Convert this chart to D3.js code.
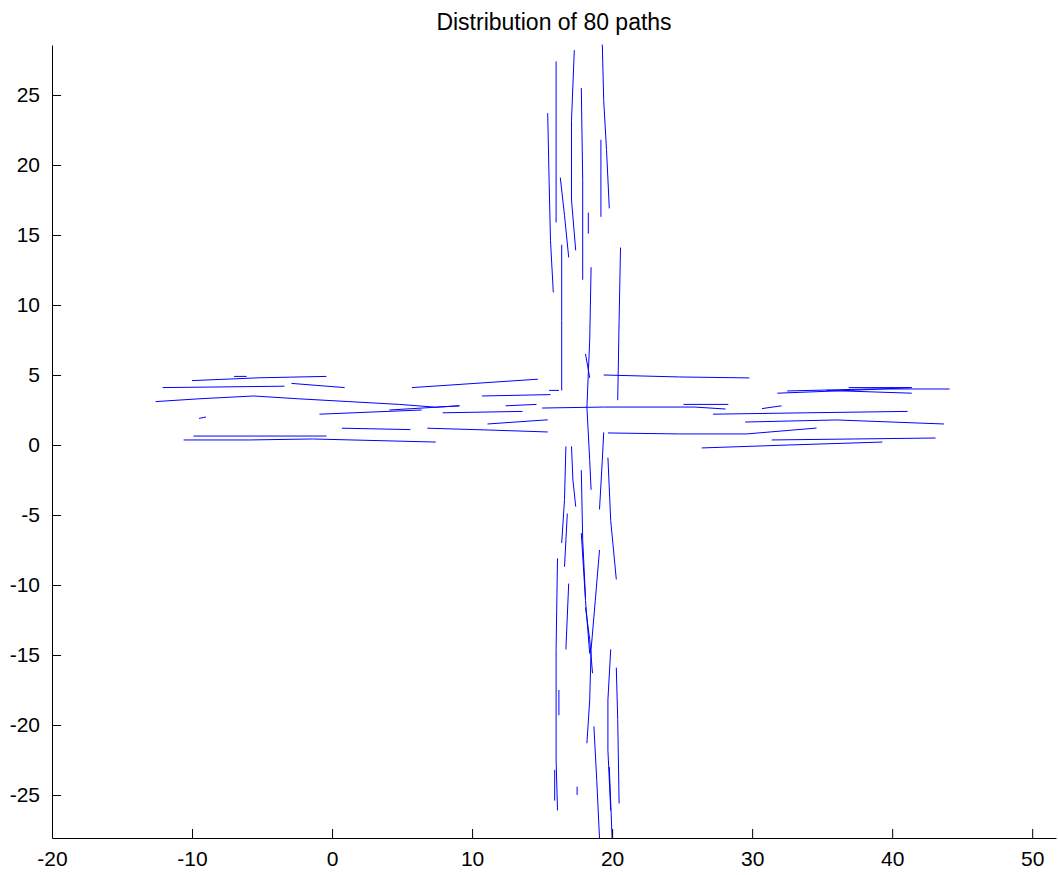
<!DOCTYPE html>
<html>
<head>
<meta charset="utf-8">
<script src="https://cdn.jsdelivr.net/npm/d3@7/dist/d3.min.js"></script>
<style>
  body { margin: 0; background: #fff; }
  svg text { font-family: "Liberation Sans", Arial, sans-serif; fill: #000; }
</style>
</head>
<body>
<svg width="1058" height="875"></svg>
<script>
const w = 1058;
const h = 875;

const title = "Distribution of 80 paths";
const xTicks = [-20, -10, 0, 10, 20, 30, 40, 50];
const yTicks = [-25, -20, -15, -10, -5, 0, 5, 10, 15, 20, 25];
const xDomain = [-20, 51.7];
const yDomain = [-28.07, 28.57];

// paths running west-east (x/y in plot units)
const westEast = [
  [[-10.0, 4.6], [-5.2, 4.8], [-0.4, 4.9]],
  [[-7.0, 4.9], [-6.1, 4.9]],
  [[-12.1, 4.1], [-3.4, 4.2]],
  [[-2.9, 4.4], [0.9, 4.1]],
  [[-12.6, 3.1], [-9.5, 3.3], [-5.6, 3.5], [-2.4, 3.3], [1.2, 3.1], [4.8, 2.9], [7.4, 2.7], [9.1, 2.8]],
  [[-9.5, 1.9], [-9.0, 2.0]],
  [[-0.9, 2.2], [6.4, 2.5]],
  [[4.1, 2.5], [9.1, 2.8]],
  [[0.7, 1.2], [5.6, 1.1]],
  [[-10.6, 0.36], [-5.9, 0.36], [-1.4, 0.43], [7.4, 0.21]],
  [[-9.9, 0.64], [-0.4, 0.64]],
  [[5.7, 4.1], [10.2, 4.4], [14.7, 4.7]],
  [[15.5, 3.9], [16.2, 3.9]],
  [[10.7, 3.5], [15.6, 3.6]],
  [[7.9, 2.3], [13.6, 2.4]],
  [[12.4, 2.8], [14.6, 2.9]],
  [[11.1, 1.5], [15.4, 1.8]],
  [[6.8, 1.2], [11.2, 1.07], [15.4, 0.93]],
  [[15.0, 2.64], [19.4, 2.71], [25.9, 2.71], [28.1, 2.57]],
  [[19.4, 5.0], [24.8, 4.86], [29.8, 4.79]],
  [[25.1, 2.9], [28.3, 2.9]],
  [[30.7, 2.6], [32.1, 2.8]],
  [[27.2, 2.2], [33.9, 2.3], [41.1, 2.4]],
  [[29.5, 1.64], [36.0, 1.79], [43.7, 1.5]],
  [[19.7, 0.86], [24.8, 0.79], [29.6, 0.79], [34.6, 1.21]],
  [[31.4, 0.36], [37.3, 0.43], [43.1, 0.5]],
  [[26.4, -0.21], [32.6, 0.0], [39.3, 0.21]],
  [[32.5, 3.86], [38.4, 4.0], [44.1, 4.0]],
  [[31.8, 3.7], [37.0, 3.9], [41.4, 4.1]],
  [[35.3, 3.9], [41.4, 3.7]],
  [[36.9, 4.1], [41.4, 4.1]]
];

// paths running north-south
const northSouth = [
  [[15.4, 23.7], [15.5, 18.9], [15.6, 14.6], [15.8, 10.9]],
  [[16.0, 27.4], [16.0, 15.9]],
  [[16.3, 19.1], [16.6, 16.4], [16.9, 13.4]],
  [[16.4, 14.3], [16.4, 8.9], [16.4, 3.9]],
  [[17.3, 28.2], [17.1, 23.2], [17.1, 17.5], [17.4, 13.9]],
  [[17.8, 25.5], [17.9, 18.9], [17.9, 11.8]],
  [[18.3, 16.6], [18.3, 15.1]],
  [[18.5, 12.7], [18.4, 7.5], [18.2, 2.7], [18.4, -1.1], [18.5, -3.2]],
  [[19.3, 28.6], [19.4, 24.6], [19.6, 21.1], [19.8, 16.9]],
  [[19.2, 21.8], [19.2, 16.3]],
  [[20.6, 14.1], [20.5, 8.9], [20.4, 3.2]],
  [[18.1, 6.5], [18.4, 4.8]],
  [[19.4, 0.9], [19.3, -1.1], [19.1, -4.6]],
  [[16.7, -0.1], [16.6, -3.9], [16.4, -7.0]],
  [[16.8, -4.9], [16.6, -8.7]],
  [[17.1, -0.1], [17.2, -2.5], [17.4, -4.4]],
  [[17.8, -1.8], [17.9, -6.8], [18.1, -10.9]],
  [[19.7, -0.9], [19.9, -5.4], [20.3, -9.6]],
  [[16.1, -8.1], [16.0, -14.6], [16.0, -18.2], [16.0, -22.5], [16.1, -26.1]],
  [[16.2, -17.5], [16.2, -19.3]],
  [[16.9, -9.9], [16.7, -14.6]],
  [[18.1, -11.6], [18.4, -13.9], [18.6, -16.3]],
  [[19.1, -7.5], [18.8, -11.1], [18.5, -14.6], [18.4, -18.2], [18.2, -21.3]],
  [[19.9, -14.6], [19.7, -18.2], [19.7, -21.8], [19.9, -26.1]],
  [[20.3, -15.9], [20.4, -19.6], [20.5, -25.6]],
  [[18.7, -20.1], [18.9, -23.9], [19.1, -28.1]],
  [[15.9, -23.2], [15.9, -25.4]],
  [[17.5, -24.4], [17.5, -25.0]],
  [[19.8, -23.0], [20.0, -28.1]],
  [[17.8, -6.3], [18.1, -11.1], [18.4, -14.9]]
];

var svg = d3.select('svg');

const plotLeft = 52, plotRight = 1056, plotTop = 45, plotBottom = 838;

const x = d3.scaleLinear().domain(xDomain).range([plotLeft, plotRight]);
const y = d3.scaleLinear().domain(yDomain).range([plotBottom, plotTop]);

function renderChart() {
  const line = d3.line().x(d => x(d[0])).y(d => y(d[1]));

  svg.append('g')
    .selectAll('path')
    .data(westEast.concat(northSouth))
    .enter()
    .append('path')
    .attr('d', line)
    .attr('fill', 'none')
    .attr('stroke', '#0000ff')
    .attr('stroke-width', 1);

  // plain hyphen minus like the original, not d3's U+2212
  const fmt = d => String(d);
  const xAxis = d3.axisBottom(x).tickValues(xTicks).tickFormat(fmt).tickSizeInner(-9).tickSizeOuter(0).tickPadding(13);
  const yAxis = d3.axisLeft(y).tickValues(yTicks).tickFormat(fmt).tickSizeInner(-9).tickSizeOuter(0).tickPadding(12);

  const gx = svg.append('g').attr('transform', `translate(0,${plotBottom})`).call(xAxis);
  const gy = svg.append('g').attr('transform', `translate(${plotLeft},0)`).call(yAxis);

  [gx, gy].forEach(g => {
    g.selectAll('path, line').attr('stroke', '#000');
    g.selectAll('text').attr('font-size', 21).attr('font-family', '"Liberation Sans", Arial, sans-serif');
  });

  svg.append('text')
    .attr('x', (plotLeft + plotRight) / 2)
    .attr('y', 30)
    .attr('text-anchor', 'middle')
    .attr('font-size', 23)
    .text(title);
}
renderChart();
</script>
</body>
</html>
